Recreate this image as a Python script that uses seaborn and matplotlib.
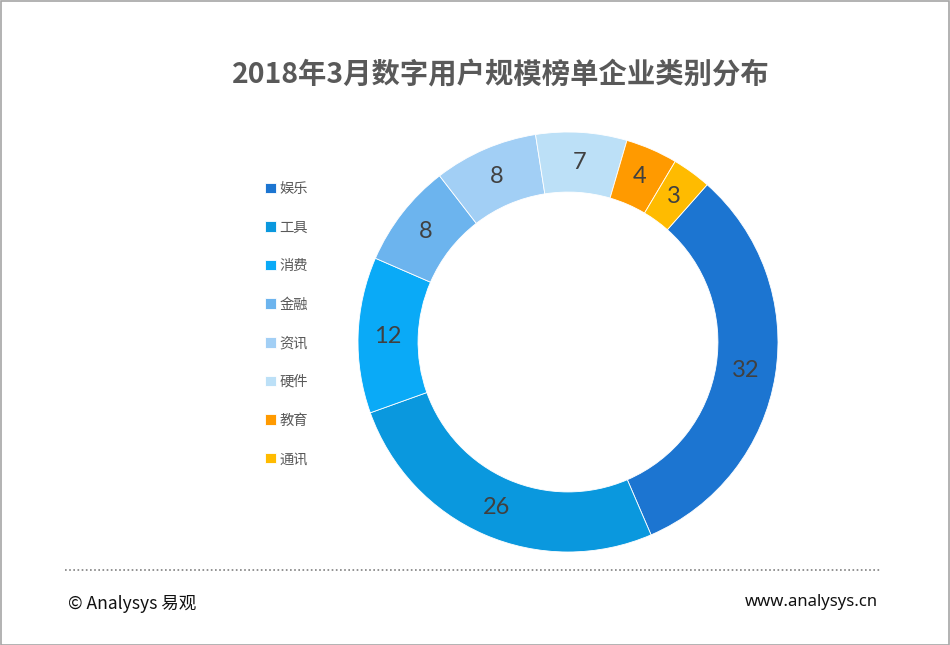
import matplotlib
matplotlib.use('Agg')
import matplotlib.pyplot as plt
import seaborn as sns
from matplotlib.patches import Rectangle
from matplotlib.lines import Line2D

categories = ['娱乐', '工具', '消费', '金融', '资讯', '硬件', '教育', '通讯']
counts = [32, 26, 12, 8, 8, 7, 4, 3]
colors = ['#1C75D1', '#0A98DE', '#0AAAF7', '#6CB4EE', '#A2CFF5', '#BCE0F7', '#FF9A00', '#FFBB00']

title = '2018年3月数字用户规模榜单企业类别分布'
footer_left = '© Analysys 易观'
footer_right = 'www.analysys.cn'

sns.set_theme(style='white')
plt.rcParams['font.family'] = ['Lato', 'Noto Sans CJK SC', 'DejaVu Sans']

W, H = 950, 645
fig = plt.figure(figsize=(W / 100, H / 100), dpi=100)
fig.patch.set_facecolor('white')

# donut: centre (568, 342) px, outer radius 210 px
cx, cy, R = 568, 342, 210
ax = fig.add_axes([(cx - R) / W, (H - cy - R) / H, 2 * R / W, 2 * R / H])
total = sum(counts)
wedges, _, autotexts = ax.pie(
    counts, colors=colors, startangle=48.5, counterclock=False,
    radius=1, wedgeprops=dict(width=0.286, edgecolor='white', linewidth=0.6),
    autopct=lambda p: f'{p * total / 100:.0f}', pctdistance=0.857,
    textprops=dict(color='#404040', fontsize=17))
ax.set_xlim(-1, 1)
ax.set_ylim(-1, 1)
ax.set_aspect('equal')
ax.axis('off')

fig.text(501 / W, 1 - 75 / H, title, ha='center', va='center',
         fontsize=20.4, fontweight='bold', color='#595959',
         family=['Noto Sans CJK SC', 'DejaVu Sans'])

leg = fig.legend(wedges, categories, loc='upper left',
                 bbox_to_anchor=(252 / W, 1 - 169 / H), frameon=False,
                 handlelength=0.75, handleheight=0.75, handletextpad=0.25,
                 labelspacing=1.72,
                 prop=dict(family=['Noto Sans CJK SC', 'DejaVu Sans'], size=10.3))
for t in leg.get_texts():
    t.set_color('#595959')

# dotted separator and footer
fig.add_artist(Line2D([65 / W, 880 / W], [1 - 570 / H, 1 - 570 / H],
                      color='#808080', linestyle=(0, (1, 1.5)), linewidth=1.2))
fig.text(68 / W, 1 - 604 / H, footer_left, ha='left', va='center',
         fontsize=12.6, color='#111111', family=['Noto Sans CJK SC', 'DejaVu Sans'])
fig.text(878 / W, 1 - 602 / H, footer_right, ha='right', va='center',
         fontsize=12, color='#111111', family=['Noto Sans', 'DejaVu Sans'])

fig.add_artist(Rectangle((0.5 / W, 0.5 / H), 1 - 1.5 / W, 1 - 1.5 / H,
                         transform=fig.transFigure, fill=False,
                         edgecolor='#A6A6A6', linewidth=1.2))

fig.savefig('out.png', dpi=100)
